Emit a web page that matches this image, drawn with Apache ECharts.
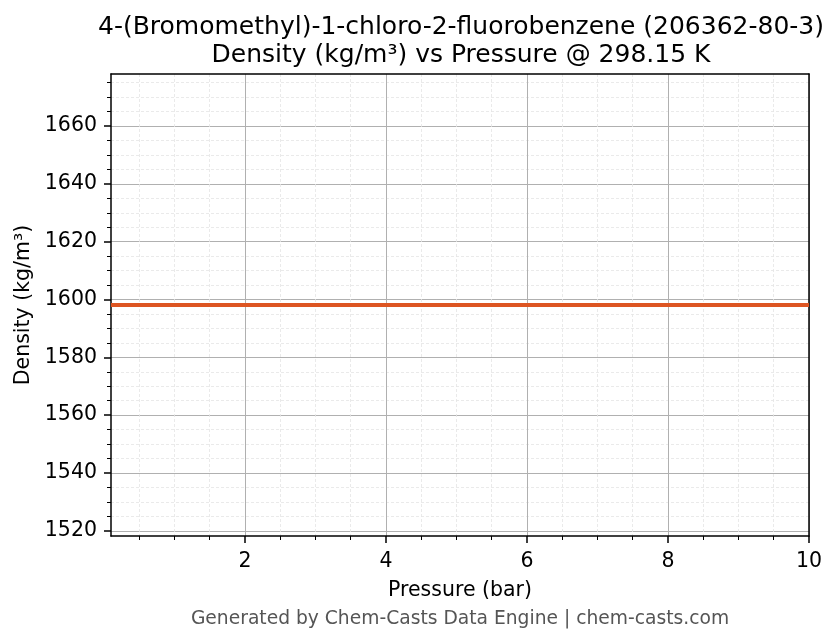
<!DOCTYPE html>
<html>
<head>
<meta charset="utf-8">
<script src="https://cdn.jsdelivr.net/npm/echarts@6/dist/echarts.min.js"></script>
<style>
html,body{margin:0;padding:0;background:#fff;}
#chart{width:838px;height:644px;}
</style>
</head>
<body>
<div id="chart"></div>
<script>
const pressure = [0.1, 1, 2, 3, 4, 5, 6, 7, 8, 9, 10];
const density = [1598.1, 1598.1, 1598.1, 1598.1, 1598.1, 1598.1, 1598.1, 1598.1, 1598.1, 1598.1, 1598.1];
const xMajorTicks = [2, 4, 6, 8, 10];
const xMinorTicks = [0.5, 1, 1.5, 2.5, 3, 3.5, 4.5, 5, 5.5, 6.5, 7, 7.5, 8.5, 9, 9.5];
const yMajorTicks = [1520, 1540, 1560, 1580, 1600, 1620, 1640, 1660];
const yMinorTicks = [1525, 1530, 1535, 1545, 1550, 1555, 1565, 1570, 1575, 1585, 1590, 1595,
                     1605, 1610, 1615, 1625, 1630, 1635, 1645, 1650, 1655, 1665, 1670, 1675];
const xRange = [0.1, 10];
const yRange = [1518.2, 1678.0];
const titleText = '4-(Bromomethyl)-1-chloro-2-fluorobenzene (206362-80-3)\nDensity (kg/m³) vs Pressure @ 298.15 K';
const xName = 'Pressure (bar)';
const yName = 'Density (kg/m³)';
const footer = 'Generated by Chem-Casts Data Engine | chem-casts.com';

const FONT = 'DejaVu Sans';
const chart = echarts.init(document.getElementById('chart'), null, {renderer: 'canvas'});

const seriesData = pressure.map((p, i) => [p, density[i]]);

chart.setOption({
  animation: false,
  backgroundColor: '#ffffff',
  textStyle: {fontFamily: FONT},
  title: {
    text: titleText,
    left: 456,
    top: 8,
    textAlign: 'center',
    textStyle: {fontFamily: FONT, fontSize: 25, fontWeight: 'normal', color: '#000', lineHeight: 28}
  },
  graphic: [{
    type: 'text',
    x: 460,
    y: 619,
    style: {text: footer, fontFamily: FONT, fontSize: 18.7, fill: '#555555', align: 'center', verticalAlign: 'middle'}
  }],
  grid: {left: 111, right: 29, top: 74, bottom: 108, show: false},
  xAxis: [
    {
      type: 'value', position: 'bottom', min: xRange[0], max: xRange[1],
      name: xName, nameLocation: 'middle', nameGap: 44,
      nameTextStyle: {fontFamily: FONT, fontSize: 20.5, color: '#000'},
      axisLine: {show: true, onZero: false, lineStyle: {color: '#000', width: 1.5}},
      axisTick: {show: true, customValues: xMajorTicks, length: 7, lineStyle: {color: '#000', width: 1.5}},
      axisLabel: {show: true, customValues: xMajorTicks, margin: 15, fontFamily: FONT, fontSize: 20.5, color: '#000',
                  formatter: v => String(v)},
      splitLine: {show: true, lineStyle: {color: '#b0b0b0', width: 1}}
    },
    {
      type: 'value', position: 'bottom', min: xRange[0], max: xRange[1],
      axisLine: {show: false},
      axisTick: {show: true, customValues: xMinorTicks, length: 4, lineStyle: {color: '#000', width: 1}},
      axisLabel: {show: false},
      splitLine: {show: true, lineStyle: {color: '#e4e4e4', width: 0.8, type: [3, 2]}}
    },
    {
      type: 'value', position: 'top', min: xRange[0], max: xRange[1],
      axisLine: {show: true, onZero: false, lineStyle: {color: '#000', width: 1.5}},
      axisTick: {show: false}, axisLabel: {show: false}, splitLine: {show: false}
    }
  ],
  yAxis: [
    {
      type: 'value', position: 'left', min: yRange[0], max: yRange[1],
      name: yName, nameLocation: 'middle', nameGap: 72,
      nameTextStyle: {fontFamily: FONT, fontSize: 20.5, color: '#000'},
      axisLine: {show: true, onZero: false, lineStyle: {color: '#000', width: 1.5}},
      axisTick: {show: true, customValues: yMajorTicks, length: 7, lineStyle: {color: '#000', width: 1.5}},
      axisLabel: {show: true, customValues: yMajorTicks, margin: 14, fontFamily: FONT, fontSize: 20.5, color: '#000',
                  formatter: v => String(v)},
      splitLine: {show: true, lineStyle: {color: '#b0b0b0', width: 1}}
    },
    {
      type: 'value', position: 'left', min: yRange[0], max: yRange[1],
      axisLine: {show: false},
      axisTick: {show: true, customValues: yMinorTicks, length: 4, lineStyle: {color: '#000', width: 1}},
      axisLabel: {show: false},
      splitLine: {show: true, lineStyle: {color: '#e4e4e4', width: 0.8, type: [3, 2]}}
    },
    {
      type: 'value', position: 'right', min: yRange[0], max: yRange[1],
      axisLine: {show: true, onZero: false, lineStyle: {color: '#000', width: 1.5}},
      axisTick: {show: false}, axisLabel: {show: false}, splitLine: {show: false}
    }
  ],
  series: [{
    type: 'line',
    xAxisIndex: 0,
    yAxisIndex: 0,
    data: seriesData,
    showSymbol: false,
    symbol: 'none',
    lineStyle: {color: '#dd5522', width: 4},
    z: 5
  }]
});
</script>
</body>
</html>
